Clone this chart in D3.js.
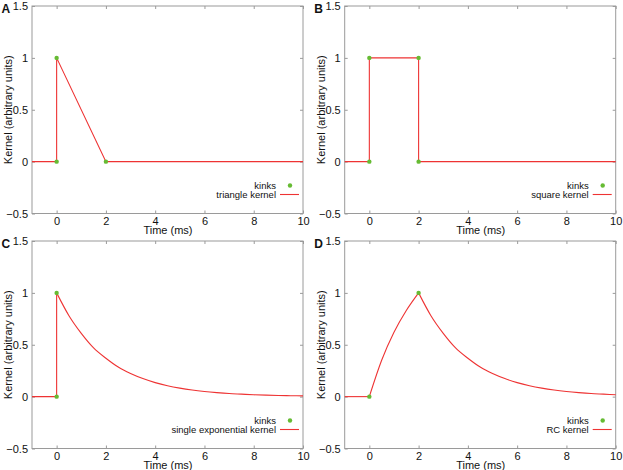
<!DOCTYPE html>
<html>
<head>
<meta charset="utf-8">
<script src="https://cdn.jsdelivr.net/npm/d3@7"></script>
<style>
  body { margin: 0; background: #fff; }
  svg text { font-family: "Liberation Sans", Arial, sans-serif; fill: #111; }
</style>
</head>
<body>
<div id="chart"></div>
<script>
// panel letters and legend names
const panelLabels = ["A", "B", "C", "D"];
const kernelNames = ["triangle kernel", "square kernel", "single exponential kernel", "RC kernel"];

// tick labels
const xTicks = [0, 2, 4, 6, 8, 10];
const yTicks = [-0.5, 0, 0.5, 1, 1.5];

// A: triangle kernel (straight pieces)
const triangleT = [-1, 0, 0, 2, 10];
const triangleK = [0, 0, 1, 0, 0];
const triangleKinksT = [0, 0, 2];
const triangleKinksK = [0, 1, 0];

// B: square kernel
const squareT = [-1, 0, 0, 2, 2, 10];
const squareK = [0, 0, 1, 1, 0, 0];
const squareKinksT = [0, 0, 2, 2];
const squareKinksK = [0, 1, 1, 0];

// C: single exponential kernel (step then decay)
const expStepT = [-1, 0, 0];
const expStepK = [0, 0, 1];
const expDecayT = [0, 0.5, 1, 1.5, 2, 2.5, 3, 3.5, 4, 4.5, 5, 5.5, 6, 6.5, 7, 7.5, 8, 8.5, 9, 9.5, 10];
const expDecayK = [1, 0.78, 0.61, 0.47, 0.37, 0.285, 0.223, 0.174, 0.135, 0.105, 0.082, 0.064, 0.05, 0.039, 0.030, 0.024, 0.018, 0.014, 0.011, 0.009, 0.007];
const expKinksT = [0, 0];
const expKinksK = [0, 1];

// D: RC kernel (flat, rise, decay)
const rcFlatT = [-1, 0];
const rcFlatK = [0, 0];
const rcRiseT = [0, 0.5, 1, 1.5, 2];
const rcRiseK = [0, 0.35, 0.62, 0.83, 1];
const rcDecayT = [2, 2.5, 3, 3.5, 4, 4.5, 5, 5.5, 6, 6.5, 7, 7.5, 8, 8.5, 9, 9.5, 10];
const rcDecayK = [1, 0.78, 0.61, 0.47, 0.37, 0.285, 0.223, 0.174, 0.135, 0.105, 0.082, 0.064, 0.05, 0.039, 0.030, 0.024, 0.018];
const rcKinksT = [0, 2];
const rcKinksK = [0, 1];

const zip = (ts, ks) => ts.map((t, i) => [t, ks[i]]);

// each kernel: list of pieces (smooth ones go through a monotone curve) and its kinks
const kernels = [
    { pieces: [{ pts: zip(triangleT, triangleK), smooth: false }], kinks: zip(triangleKinksT, triangleKinksK) },
    { pieces: [{ pts: zip(squareT, squareK), smooth: false }], kinks: zip(squareKinksT, squareKinksK) },
    { pieces: [{ pts: zip(expStepT, expStepK), smooth: false },
               { pts: zip(expDecayT, expDecayK), smooth: true }], kinks: zip(expKinksT, expKinksK) },
    { pieces: [{ pts: zip(rcFlatT, rcFlatK), smooth: false },
               { pts: zip(rcRiseT, rcRiseK), smooth: true },
               { pts: zip(rcDecayT, rcDecayK), smooth: true }], kinks: zip(rcKinksT, rcKinksK) },
];

const width = 623;
const height = 470;
const plotW = 271;
const plotH = 207.5;
const origins = [[32, 6], [344.7, 6], [32, 241], [344.7, 241]];
const frameColor = "#9a9a9a";
const lineColor = "#ee3333";
const dotColor = "#66bb33";

const svg = d3.select("#chart")
    .append("svg")
    .attr("width", width)
    .attr("height", height);

const x = d3.scaleLinear().domain([-1, 10]).range([0, plotW]);
const y = d3.scaleLinear().domain([-0.5, 1.5]).range([plotH, 0]);

const straight = d3.line().x((d) => x(d[0])).y((d) => y(d[1]));
const smooth = d3.line().x((d) => x(d[0])).y((d) => y(d[1])).curve(d3.curveMonotoneX);

kernels.forEach((kernel, p) => {
    const g = svg.append("g")
        .attr("transform", `translate(${origins[p][0]},${origins[p][1]})`);

    // inward ticks on all four sides, labels on bottom and left
    g.append("g").attr("transform", `translate(0,${plotH})`)
        .call(d3.axisBottom(x).tickValues(xTicks).tickSizeInner(-3).tickSizeOuter(0).tickPadding(3.5));
    g.append("g")
        .call(d3.axisLeft(y).tickValues(yTicks).tickSizeInner(-3).tickSizeOuter(0).tickPadding(4).tickFormat(d3.format("")));
    g.append("g").call(d3.axisTop(x).tickValues(xTicks).tickSizeInner(-3).tickSizeOuter(0).tickFormat(""));
    g.append("g").attr("transform", `translate(${plotW},0)`)
        .call(d3.axisRight(y).tickValues(yTicks).tickSizeInner(-3).tickSizeOuter(0).tickFormat(""));

    g.selectAll(".domain").remove();
    g.selectAll(".tick line").attr("stroke", frameColor);
    g.selectAll(".tick text").style("font-size", "11px").attr("fill", "#111");

    g.append("rect")
        .attr("width", plotW)
        .attr("height", plotH)
        .attr("fill", "none")
        .attr("stroke", frameColor)
        .attr("stroke-width", 1);

    // kernel line
    kernel.pieces.forEach((piece) => {
        g.append("path")
            .attr("d", piece.smooth ? smooth(piece.pts) : straight(piece.pts))
            .attr("fill", "none")
            .attr("stroke", lineColor)
            .attr("stroke-width", 1.1);
    });

    // kinks
    g.selectAll(".kink")
        .data(kernel.kinks)
        .enter().append("circle")
        .attr("class", "kink")
        .attr("cx", (d) => x(d[0]))
        .attr("cy", (d) => y(d[1]))
        .attr("r", 2.2)
        .attr("fill", dotColor);

    // legend
    const leg = g.append("g").attr("transform", `translate(${plotW},${plotH})`);
    leg.append("text")
        .attr("x", -27).attr("y", -28).attr("dy", "0.35em")
        .attr("text-anchor", "end")
        .style("font-size", "9.5px")
        .text("kinks");
    leg.append("circle")
        .attr("cx", -13).attr("cy", -28).attr("r", 2.2)
        .attr("fill", dotColor);
    leg.append("text")
        .attr("x", -27).attr("y", -19).attr("dy", "0.35em")
        .attr("text-anchor", "end")
        .style("font-size", "9.5px")
        .text(kernelNames[p]);
    leg.append("line")
        .attr("x1", -23).attr("x2", -4).attr("y1", -19).attr("y2", -19)
        .attr("stroke", lineColor)
        .attr("stroke-width", 1.1);

    // axis titles
    g.append("text")
        .attr("x", plotW / 2 + 0.5)
        .attr("y", plotH + 20)
        .attr("text-anchor", "middle")
        .style("font-size", "11px")
        .text("Time (ms)");
    g.append("text")
        .attr("transform", `translate(-20,${plotH / 2}) rotate(-90)`)
        .attr("text-anchor", "middle")
        .style("font-size", "11px")
        .text("Kernel (arbitrary units)");

    // panel letter
    g.append("text")
        .attr("x", -30.5)
        .attr("y", 6.5)
        .style("font-size", "12px")
        .style("font-weight", "bold")
        .text(panelLabels[p]);
});
</script>
</body>
</html>
